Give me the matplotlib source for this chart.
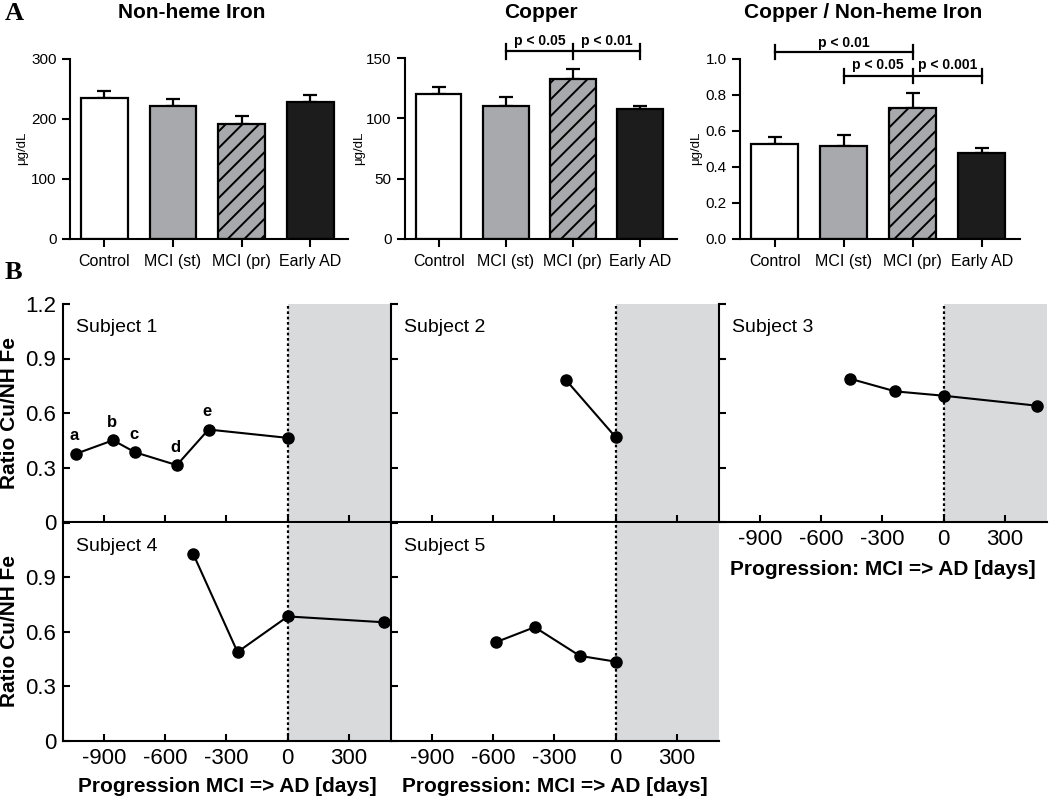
import matplotlib
matplotlib.use("Agg")
import matplotlib.pyplot as plt
import numpy as np

plt.rcParams['font.family'] = ['Liberation Sans', 'DejaVu Sans']
plt.rcParams['hatch.linewidth'] = 1.4

# panel A data
groups = ["Control", "MCI (st)", "MCI (pr)", "Early AD"]
iron_mean = [235, 221, 191, 229]
iron_err = [12, 12, 14, 11]
copper_mean = [120, 110.5, 133, 107.5]
copper_err = [6, 7.5, 8, 3]
ratio_mean = [0.528, 0.518, 0.729, 0.479]
ratio_err = [0.04, 0.06, 0.08, 0.026]

bar_faces = ["white", "#a7a9ac", "#a7a9ac", "#1c1c1c"]
bar_hatch = [None, None, "//", None]

# panel B data (days relative to AD diagnosis, Cu / NH-Fe ratio)
s1_days = [-1038, -855, -748, -543, -388, 0]
s1_ratio = [0.375, 0.45, 0.384, 0.313, 0.509, 0.463]
s1_tags = ["a", "b", "c", "d", "e"]
s2_days = [-242, 0]
s2_ratio = [0.779, 0.466]
s3_days = [-460, -237, 0, 458]
s3_ratio = [0.789, 0.719, 0.695, 0.64]
s4_days = [-462, -246, 0, 469]
s4_ratio = [1.026, 0.488, 0.684, 0.652]
s5_days = [-587, -397, -176, 0]
s5_ratio = [0.542, 0.625, 0.467, 0.435]

W, H = 1050, 797
fig = plt.figure(figsize=(W / 100, H / 100), dpi=100)


def px_axes(l, t, r, b):
    return fig.add_axes([l / W, 1 - b / H, (r - l) / W, (b - t) / H])


def bar_panel(ax, means, errs, ymax, yticks, ylabels):
    x = np.arange(len(groups))
    for i in range(len(groups)):
        ax.bar(x[i], means[i], width=0.68, color=bar_faces[i], edgecolor="black",
               linewidth=1.6, hatch=bar_hatch[i], zorder=2)
    ax.errorbar(x, means, yerr=[np.zeros(len(x)), errs], fmt="none", ecolor="black",
                elinewidth=1.6, capsize=5, capthick=1.6, zorder=1)
    ax.set_xlim(-0.5, 3.55)
    ax.set_ylim(0, ymax)
    ax.set_xticks(x, groups)
    ax.set_yticks(yticks, ylabels)
    ax.tick_params(axis="x", length=6, width=1.5, labelsize=11.5, pad=5)
    ax.tick_params(axis="y", length=6, width=1.5, labelsize=11)
    for s in ["top", "right"]:
        ax.spines[s].set_visible(False)
    for s in ["left", "bottom"]:
        ax.spines[s].set_linewidth(1.5)


def bracket(ax, x0, x1, y, cap, mid=None):
    ax.plot([x0, x1], [y, y], color="black", lw=1.6, clip_on=False)
    ends = [x0, x1] if mid is None else [x0, mid, x1]
    for xx in ends:
        ax.plot([xx, xx], [y - cap, y + cap], color="black", lw=1.6, clip_on=False)


# ---- A ----
ax1 = px_axes(70, 59, 348, 239)
bar_panel(ax1, iron_mean, iron_err, 300, [0, 100, 200, 300], ["0", "100", "200", "300"])

ax2 = px_axes(405, 58, 677, 239)
bar_panel(ax2, copper_mean, copper_err, 150, [0, 50, 100, 150], ["0", "50", "100", "150"])
bracket(ax2, 1, 3, 155.4, 6, mid=2)
ax2.text(1.5, 164, "p < 0.05", ha="center", va="center", fontsize=10, fontweight="bold")
ax2.text(2.5, 164, "p < 0.01", ha="center", va="center", fontsize=10, fontweight="bold")

ax3 = px_axes(740, 59, 1020, 239)
bar_panel(ax3, ratio_mean, ratio_err, 1.0, [0, 0.2, 0.4, 0.6, 0.8, 1.0],
          ["0.0", "0.2", "0.4", "0.6", "0.8", "1.0"])
bracket(ax3, 0, 2, 1.039, 0.039)
ax3.text(1, 1.09, "p < 0.01", ha="center", va="center", fontsize=10, fontweight="bold")
bracket(ax3, 1, 3, 0.907, 0.039, mid=2)
ax3.text(1.5, 0.965, "p < 0.05", ha="center", va="center", fontsize=10, fontweight="bold")
ax3.text(2.5, 0.965, "p < 0.001", ha="center", va="center", fontsize=10, fontweight="bold")

for tx, title in [(192, "Non-heme Iron"), (541, "Copper"), (863, "Copper / Non-heme Iron")]:
    fig.text(tx / W, 1 - 12 / H, title, ha="center", va="center", fontsize=15, fontweight="bold")
for lx in [22, 359, 696]:
    fig.text(lx / W, 1 - 148 / H, "μg/dL", rotation=90, ha="center", va="center", fontsize=9.5)

fig.text(14 / W, 1 - 13 / H, "A", ha="center", va="center", fontsize=19, fontweight="bold",
         family="Liberation Serif")
fig.text(13 / W, 1 - 272 / H, "B", ha="center", va="center", fontsize=19, fontweight="bold",
         family="Liberation Serif")

# ---- B ----
XLIM = (-1100, 505)
shade = "#d9dadc"
col_l = [63, 391, 719]
col_w = 328
row_t = [304, 522.7]
row_h = 218

subjects = [(s1_days, s1_ratio), (s2_days, s2_ratio), (s3_days, s3_ratio),
            (s4_days, s4_ratio), (s5_days, s5_ratio)]
cells = [(0, 0), (0, 1), (0, 2), (1, 0), (1, 1)]
xlabels = {2: "Progression: MCI => AD [days]", 3: "Progression MCI => AD [days]",
           4: "Progression: MCI => AD [days]"}

for k, ((days, ratio), (r, c)) in enumerate(zip(subjects, cells)):
    ax = px_axes(col_l[c], row_t[r], col_l[c] + col_w, row_t[r] + row_h)
    ax.axvspan(0, XLIM[1], color=shade, lw=0, zorder=0)
    ax.axvline(0, color="black", ls=(0, (1.2, 1.2)), lw=1.6, zorder=1)
    ax.plot(days, ratio, "-o", color="black", ms=8, lw=1.5, zorder=3, clip_on=False)
    ax.set_xlim(XLIM)
    ax.set_ylim(0, 1.2)
    ax.set_xticks([-900, -600, -300, 0, 300], ["-900", "-600", "-300", "0", "300"])
    ax.set_yticks([0, 0.3, 0.6, 0.9, 1.2])
    ax.tick_params(direction="in", length=5, width=1.5, labelsize=16, pad=5)
    for s in ["top", "right"]:
        ax.spines[s].set_visible(False)
    for s in ["left", "bottom"]:
        ax.spines[s].set_linewidth(1.5)
    if c == 0:
        if r == 0:
            ax.set_yticklabels(["0", "0.3", "0.6", "0.9", "1.2"])
        else:
            ax.set_yticklabels(["0", "0.3", "0.6", "0.9", ""])
    else:
        ax.tick_params(labelleft=False)
    if k in xlabels:
        ax.set_xlabel(xlabels[k], fontsize=15, fontweight="bold",
                      labelpad=7 if r == 0 else 6)
    else:
        ax.tick_params(labelbottom=False)
    ax.text(0.04, 0.89, "Subject %d" % (k + 1), transform=ax.transAxes,
            ha="left", va="center", fontsize=14)
    if k == 0:
        for d, v, t in zip(days, ratio, s1_tags):
            ax.annotate(t, (d, v), xytext=(-1, 13), textcoords="offset points",
                        ha="center", va="center", fontsize=12, fontweight="bold")

fig.text(10 / W, 1 - 413 / H, "Ratio Cu/NH Fe", rotation=90, ha="center", va="center",
         fontsize=15, fontweight="bold")
fig.text(10 / W, 1 - 631 / H, "Ratio Cu/NH Fe", rotation=90, ha="center", va="center",
         fontsize=15, fontweight="bold")

fig.savefig("out.png", dpi=100)
